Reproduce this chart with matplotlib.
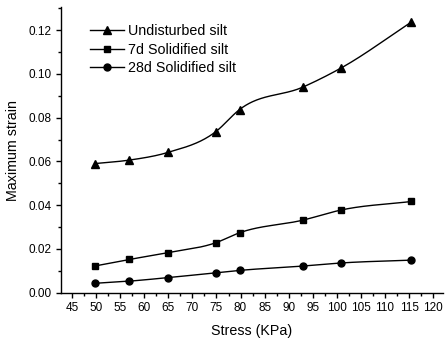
import numpy as np
import matplotlib
matplotlib.use("Agg")
import matplotlib.pyplot as plt
from matplotlib.ticker import MultipleLocator, FormatStrFormatter

# ── data ──────────────────────────────────────────────────────────────
stress = [49.7, 56.9, 64.9, 74.8, 79.8, 93.0, 100.9, 115.5]
undisturbed = [0.0590, 0.0606, 0.0641, 0.0735, 0.0837, 0.0940, 0.1027, 0.1237]
solid_7d = [0.0122, 0.0152, 0.0183, 0.0228, 0.0274, 0.0332, 0.0378, 0.0417]
solid_28d = [0.0043, 0.0053, 0.0069, 0.0091, 0.0102, 0.0122, 0.0136, 0.0149]
labels = ["Undisturbed silt", "7d Solidified silt", "28d Solidified silt"]
markers = ["^", "s", "o"]


def smooth_line(x, y, n=300):
    """Cubic Hermite curve through the points (averaged secant tangents)."""
    x = np.asarray(x, float)
    y = np.asarray(y, float)
    h = np.diff(x)
    delta = np.diff(y) / h
    m = np.zeros_like(y)
    m[1:-1] = (delta[:-1] * h[1:] + delta[1:] * h[:-1]) / (h[:-1] + h[1:])
    m[0] = delta[0]
    m[-1] = delta[-1]
    xs = np.linspace(x[0], x[-1], n)
    idx = np.clip(np.searchsorted(x, xs) - 1, 0, len(x) - 2)
    t = (xs - x[idx]) / h[idx]
    h00 = 2 * t ** 3 - 3 * t ** 2 + 1
    h10 = t ** 3 - 2 * t ** 2 + t
    h01 = -2 * t ** 3 + 3 * t ** 2
    h11 = t ** 3 - t ** 2
    ys = (h00 * y[idx] + h10 * h[idx] * m[idx]
          + h01 * y[idx + 1] + h11 * h[idx] * m[idx + 1])
    return xs, ys


def main() -> None:
    plt.rcParams["font.family"] = ["Liberation Sans", "DejaVu Sans"]

    fig = plt.figure(figsize=(4.45, 3.4), dpi=100)
    ax = fig.add_axes([0.137, 0.139, 0.858, 0.8395])

    sizes = [5.5, 4.2, 5.0]
    for ys, lab, mk, ms in zip([undisturbed, solid_7d, solid_28d], labels, markers, sizes):
        sx, sy = smooth_line(stress, ys)
        ax.plot(sx, sy, color="black", lw=1.0)
        ax.plot(stress, ys, linestyle="none", marker=mk, color="black", ms=ms)
        # proxy handle for the legend
        ax.plot([], [], color="black", lw=1.0, marker=mk, ms=ms, label=lab)

    ax.set_xlim(42.7, 122)
    ax.set_ylim(0, 0.1304)
    ax.set_xticks(np.arange(45, 121, 5))
    ax.xaxis.set_minor_locator(MultipleLocator(2.5))
    ax.yaxis.set_major_locator(MultipleLocator(0.02))
    ax.yaxis.set_minor_locator(MultipleLocator(0.01))
    ax.yaxis.set_major_formatter(FormatStrFormatter("%.2f"))

    for side in ("top", "right"):
        ax.spines[side].set_visible(False)
    for side in ("left", "bottom"):
        ax.spines[side].set_linewidth(1.0)

    ax.tick_params(which="major", direction="out", length=3.5, width=1.0,
                   labelsize=8.5, colors="black")
    ax.tick_params(which="minor", direction="out", length=2, width=1.0)

    ax.set_xlabel("Stress (KPa)", fontsize=10.3, labelpad=7)
    ax.set_ylabel("Maximum strain", fontsize=10.3, labelpad=6)

    ax.legend(loc="upper left", bbox_to_anchor=(0.06, 0.96), frameon=False,
              fontsize=10.3, handlelength=2.4, handletextpad=0.3,
              labelspacing=0.3, borderaxespad=0)

    fig.savefig("out.png", dpi=100)


if __name__ == "__main__":
    main()
